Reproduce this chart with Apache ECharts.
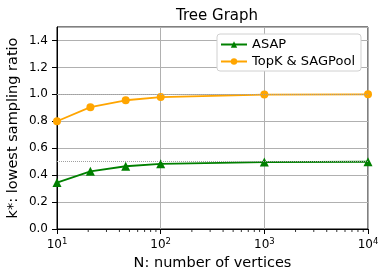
<!DOCTYPE html>
<html><head><meta charset="utf-8">
<script src="https://cdn.jsdelivr.net/npm/echarts@6/dist/echarts.min.js"></script>
<style>html,body{margin:0;padding:0;background:#fff}#c{width:388px;height:280px}</style>
</head><body><div id="c"></div>
<script>
const vertices = [10, 21, 46, 100, 1000, 10000];
const asap = [0.345, 0.428, 0.466, 0.484, 0.497, 0.4995];
const topk = [0.8, 0.905, 0.956, 0.98, 0.998, 0.9998];
const minorTicks = [20,30,40,50,60,70,80,90,200,300,400,500,600,700,800,900,2000,3000,4000,5000,6000,7000,8000,9000];
const refLines = [0.5, 1.0];
const seriesNames = ['ASAP', 'TopK & SAGPool'];

const FONT = 'DejaVu Sans';
const chart = echarts.init(document.getElementById('c'), null, {renderer: 'canvas'});
chart.setOption({
  animation: false,
  textStyle: {fontFamily: FONT},
  title: {text: 'Tree Graph', left: 212, top: 4, textAlign: 'center',
    textStyle: {fontFamily: FONT, fontSize: 15, fontWeight: 'normal', color: '#000'}},
  grid: {left: 57, right: 20, top: 27, bottom: 51, show: true, borderColor: '#000', borderWidth: 1,
    containLabel: false, outerBoundsMode: 'none'},
  legend: {
    orient: 'vertical', left: 217, top: 34, padding: [4, 6, 3, 3],
    itemWidth: 26, itemHeight: 8, itemGap: 4,
    backgroundColor: '#fff', borderColor: '#d0d0d0', borderWidth: 1, borderRadius: 3,
    data: seriesNames,
    textStyle: {fontFamily: FONT, fontSize: 13, color: '#000'}
  },
  xAxis: {
    type: 'log', logBase: 10, min: 10, max: 10000,
    name: 'N: number of vertices', nameLocation: 'middle', nameGap: 27, nameMoveOverlap: false,
    nameTextStyle: {fontFamily: FONT, fontSize: 14.5, color: '#000'},
    axisLine: {show: true, lineStyle: {color: '#000', width: 1}},
    axisTick: {show: true, inside: false, length: 5, lineStyle: {color: '#000'}},
    axisLabel: {
      margin: 8, color: '#000', showMaxLabel: true, showMinLabel: true,
      formatter: v => '{b|10}{s|' + Math.round(Math.log10(v)) + '}',
      rich: {b: {fontFamily: FONT, fontSize: 12, color: '#000'},
             s: {fontFamily: FONT, fontSize: 8.5, color: '#000', padding: [0, 0, 6, 0]}}
    },
    splitLine: {show: true, lineStyle: {color: '#b0b0b0', width: 1}}
  },
  yAxis: {
    type: 'value', min: 0, max: 1.5, interval: 0.2,
    name: 'k*: lowest sampling ratio', nameLocation: 'middle', nameGap: 36, nameRotate: 90, nameMoveOverlap: false,
    nameTextStyle: {fontFamily: FONT, fontSize: 14.5, color: '#000'},
    axisLine: {show: true, lineStyle: {color: '#000', width: 1}},
    axisTick: {show: true, inside: false, length: 5, lineStyle: {color: '#000'}},
    axisLabel: {margin: 9, color: '#000', fontFamily: FONT, fontSize: 12, showMaxLabel: false,
      formatter: v => (v > 1.45 ? '' : v.toFixed(1))},
    splitLine: {show: true, lineStyle: {color: '#b0b0b0', width: 1}}
  },
  series: [
    {
      name: seriesNames[0], type: 'line', data: vertices.map((x, i) => [x, asap[i]]),
      color: '#008000', lineStyle: {width: 1.8, color: '#008000'},
      symbol: 'triangle', symbolSize: 9, itemStyle: {color: '#008000'},
      z: 3, clip: false,
      markLine: {silent: true, symbol: 'none', label: {show: false},
        lineStyle: {type: 'dotted', color: '#a0a0a0', width: 1},
        data: refLines.map(v => ({yAxis: v}))}
    },
    {
      name: seriesNames[1], type: 'line', data: vertices.map((x, i) => [x, topk[i]]),
      color: '#FFA500', lineStyle: {width: 1.8, color: '#FFA500'},
      symbol: 'circle', symbolSize: 8, itemStyle: {color: '#FFA500'},
      z: 3, clip: false
    },
    {
      name: 'minor', type: 'custom', silent: true, clip: false, z: 5,
      data: minorTicks.map(v => [v, 0]),
      renderItem: (params, api) => {
        const p = api.coord([api.value(0), 0]);
        return {type: 'line', shape: {x1: p[0], y1: p[1], x2: p[0], y2: p[1] + 3},
          style: {stroke: '#000', lineWidth: 0.8}};
      }
    }
  ]
});
</script></body></html>
